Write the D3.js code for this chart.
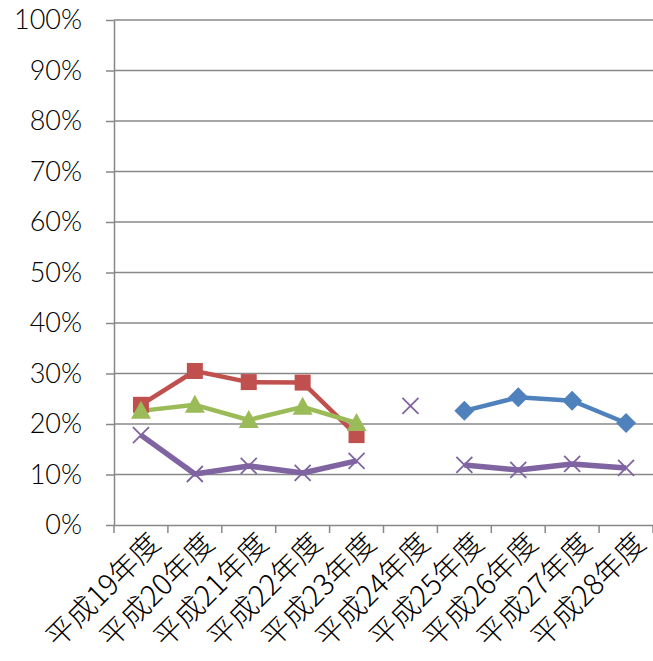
<!DOCTYPE html>
<html>
<head>
  <meta charset="UTF-8">
  <style>
    body { margin: 0; background: #fff; }
    svg { display: block; }
    .grid line { stroke: #888; stroke-width: 1.5px; }
    .axis path, .axis line { stroke: #888; stroke-width: 1.5px; }
    .axis text { fill: #000; }
  </style>
</head>
<body>
  <svg width="653" height="661"></svg>
  <script src="https://d3js.org/d3.v7.min.js"></script>
  <script>
    // 年度
    const categories = ['平成19年度', '平成20年度', '平成21年度', '平成22年度', '平成23年度',
      '平成24年度', '平成25年度', '平成26年度', '平成27年度', '平成28年度'];
    // 各系列の値（%）
    const redValues    = [23.8, 30.5, 28.3, 28.2, 17.8, null, null, null, null, null];
    const greenValues  = [22.6, 23.8, 20.8, 23.4, 20.2, null, null, null, null, null];
    const purpleValues = [17.8, 10.1, 11.7, 10.3, 12.7, null, 11.9, 10.9, 12.1, 11.3];
    const purple24     = [null, null, null, null, null, 23.6, null, null, null, null];
    const blueValues   = [null, null, null, null, null, null, 22.6, 25.3, 24.6, 20.2];
    const yTicks = [0, 10, 20, 30, 40, 50, 60, 70, 80, 90, 100];

    const svg = d3.select('svg');
    const margin = { top: 20, right: 0, bottom: 136, left: 114 };
    const width = 653 - margin.left - margin.right;
    const height = 661 - margin.top - margin.bottom;
    const g = svg.append('g').attr('transform', `translate(${margin.left},${margin.top})`);

    const x = d3.scaleBand().domain(categories).range([0, width]);
    const y = d3.scaleLinear().domain([0, 100]).range([height, 0]);

    // 目盛線
    g.append('g').attr('class', 'grid')
      .selectAll('line').data(yTicks.slice(1)).enter().append('line')
      .attr('x1', 0).attr('x2', width)
      .attr('y1', d => y(d)).attr('y2', d => y(d));

    // Y軸
    const yAxis = g.append('g').attr('class', 'axis')
      .call(d3.axisLeft(y).tickValues(yTicks).tickFormat(d => d + '%').tickSize(8).tickSizeOuter(0));
    yAxis.selectAll('text')
      .attr('x', -32)
      .style('font', '300 27px Lato, "Liberation Sans", sans-serif');

    // X軸
    const xAxis = g.append('g').attr('class', 'axis')
      .attr('transform', `translate(0,${height})`)
      .call(d3.axisBottom(x).tickSize(0).tickSizeOuter(0));
    xAxis.selectAll('.tick').remove();
    xAxis.selectAll('.edge').data(d3.range(categories.length + 1)).enter().append('line')
      .attr('x1', i => i * x.bandwidth()).attr('x2', i => i * x.bandwidth())
      .attr('y1', 0).attr('y2', 8);
    xAxis.selectAll('.lbl').data(categories).enter().append('text')
      .attr('transform', d => `translate(${x(d) + x.bandwidth() / 2 + 14},${13}) rotate(-45)`)
      .attr('text-anchor', 'end')
      .attr('dy', '0.35em')
      .style('font', '300 29px "Noto Sans CJK JP", sans-serif')
      .text(d => d);

    const cx = i => x(categories[i]) + x.bandwidth() / 2;
    const line = d3.line()
      .defined(d => d != null)
      .x((d, i) => cx(i))
      .y(d => y(d));

    function drawLine(vals, color, w) {
      g.append('path').datum(vals)
        .attr('fill', 'none').attr('stroke', color).attr('stroke-width', w)
        .attr('stroke-linejoin', 'round')
        .attr('d', line);
    }
    function pts(vals) {
      return vals.map((v, i) => ({ v, i })).filter(d => d.v != null);
    }

    drawLine(purpleValues, '#8064A2', 5.5);
    drawLine(redValues, '#C0504D', 4.5);
    drawLine(greenValues, '#9BBB59', 4.5);
    drawLine(blueValues, '#4F81BD', 4.5);

    // 赤：四角
    g.selectAll('.sq').data(pts(redValues)).enter().append('rect')
      .attr('x', d => cx(d.i) - 8).attr('y', d => y(d.v) - 8)
      .attr('width', 16).attr('height', 16).attr('fill', '#C0504D');
    // 緑：三角
    g.selectAll('.tri').data(pts(greenValues)).enter().append('path')
      .attr('transform', d => `translate(${cx(d.i)},${y(d.v)})`)
      .attr('d', 'M0,-10L10,8L-10,8Z').attr('fill', '#9BBB59');
    // 青：菱形
    g.selectAll('.dia').data(pts(blueValues)).enter().append('path')
      .attr('transform', d => `translate(${cx(d.i)},${y(d.v)})`)
      .attr('d', 'M0,-10L10,0L0,10L-10,0Z').attr('fill', '#4F81BD');
    // 紫：×
    g.selectAll('.cross').data(pts(purpleValues).concat(pts(purple24))).enter().append('path')
      .attr('transform', d => `translate(${cx(d.i)},${y(d.v)})`)
      .attr('d', 'M-8,-8L8,8M-8,8L8,-8')
      .attr('stroke', '#8064A2').attr('stroke-width', 1.8).attr('fill', 'none');
  </script>
</body>
</html>
